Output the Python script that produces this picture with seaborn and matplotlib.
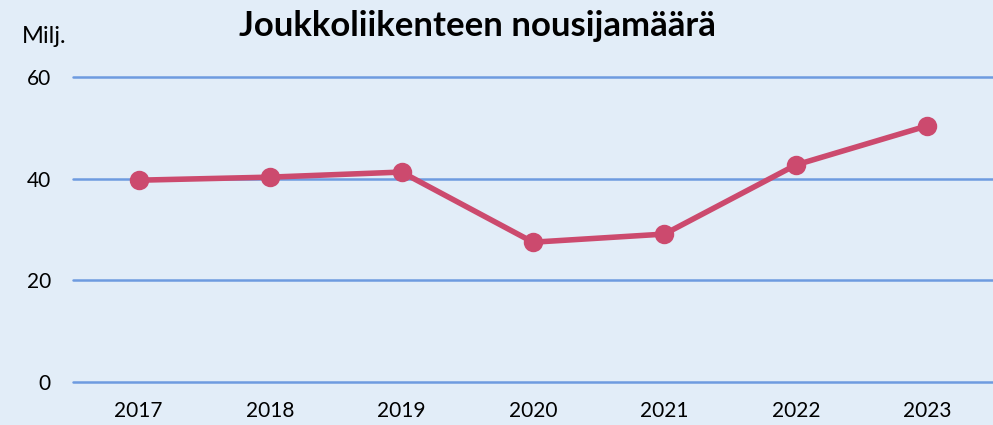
import matplotlib
matplotlib.use("Agg")
import matplotlib.pyplot as plt
import seaborn as sns
import pandas as pd

years = ["2017", "2018", "2019", "2020", "2021", "2022", "2023"]
riders = [39.7, 40.3, 41.3, 27.5, 29.1, 42.7, 50.4]
yticks = [0, 20, 40, 60]

bg = "#e2edf8"
grid_col = "#6e9be0"
line_col = "#cc4a6e"

sns.set_style("white")
plt.rcParams["font.family"] = ["Lato", "DejaVu Sans"]
plt.rcParams["text.color"] = "black"

df = pd.DataFrame({"year": years, "riders": riders})

fig = plt.figure(figsize=(9.93, 4.25), dpi=100, facecolor=bg)
ax = fig.add_axes([0.0735, 0.1012, 0.9265, 0.7176])
ax.set_facecolor(bg)

# horizontal guide lines drawn by hand so the 0 and 60 lines aren't clipped
for yt in yticks:
    ax.axhline(yt, color=grid_col, linewidth=1.8, clip_on=False, zorder=0)

sns.pointplot(data=df, x="year", y="riders", color=line_col, ax=ax,
              markers="o", linewidth=4, markersize=11)
for c in ax.collections:
    c.set_clip_on(False)
for l in ax.lines:
    l.set_clip_on(False)
    l.set_solid_capstyle("round")

ax.set_xlim(-0.5, 6.5)
ax.set_ylim(0, 60)
ax.set_yticks(yticks)
ax.grid(False)
for s in ax.spines.values():
    s.set_visible(False)
ax.tick_params(axis="both", length=0, labelsize=15, colors="black")
ax.tick_params(axis="y", pad=16)
ax.tick_params(axis="x", pad=14)
ax.set_xlabel("")
ax.set_ylabel("")

fig.text(0.022, 0.915, "Milj.", fontsize=17, ha="left", va="center")
fig.text(0.481, 0.94, "Joukkoliikenteen nousijamäärä", fontsize=25,
         fontweight="bold", ha="center", va="center")

fig.savefig("out.png", dpi=100, facecolor=bg)
